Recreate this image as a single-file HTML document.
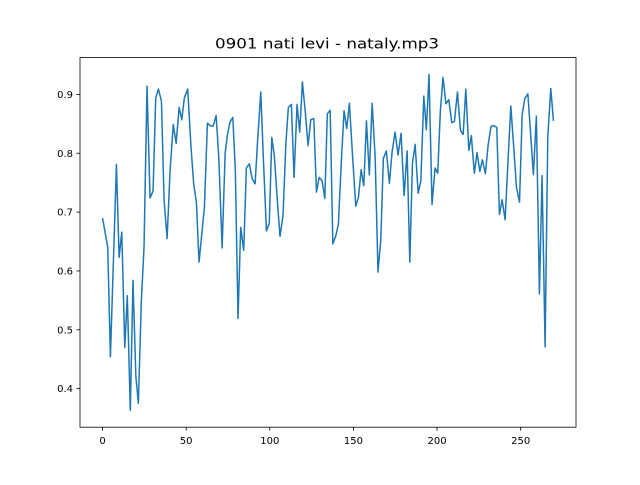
<!DOCTYPE html>
<html><head><meta charset="utf-8"><style>
body{margin:0;background:#fff;}
svg text{font-family:"DejaVu Sans","Liberation Sans",sans-serif;fill:#000;}
</style></head><body>
<svg id="chart" width="640" height="480" viewBox="0 0 640 480" xmlns="http://www.w3.org/2000/svg">
<rect width="640" height="480" fill="#fff"/>
<text x="327" y="48.5" font-size="14.4" text-anchor="middle" textLength="224" lengthAdjust="spacingAndGlyphs">0901 nati levi - nataly.mp3</text>
<g id="plot"></g>
</svg>
<script>
const xValues = [0,3.1,4.7,8.3,9.9,11.5,13.3,14.8,16.6,18.2,19.9,21.4,23.2,24.8,26.6,28.4,30.2,31.8,33.4,35.2,36.8,38.6,40.4,42.3,44.0,45.8,47.4,48.9,50.9,52.9,54.5,56.1,57.7,60.9,62.7,64.3,66.1,67.9,69.5,71.5,73.3,
74.6,76.2,77.9,79.4,81.0,82.6,84.4,86.0,87.8,89.4,91.2,92.8,94.6,96.2,98.0,99.7,101.2,102.7,104.5,106.1,107.9,109.6,111.1,112.9,114.5,116.3,117.9,119.5,121.3,122.9,124.5,126.3,127.9,129.5,131.3,132.9,134.4,136.1,137.7,139.5,141.0,142.8,144.4,146.0,147.6,
149.4,151.4,153.0,154.6,156.2,157.8,159.5,161.2,163.0,164.7,166.4,167.9,169.7,171.5,173.1,174.9,176.7,178.5,180.3,182.1,183.7,185.3,186.9,188.7,190.3,192.1,193.6,195.2,197.0,198.8,200.4,202.0,203.6,205.3,207.0,208.8,210.4,
212.2,214.0,215.6,217.2,219.0,220.5,222.3,223.9,225.6,227.1,228.9,230.5,232.3,233.9,235.7,237.3,238.9,240.7,242.5,244.1,245.7,247.5,249.3,250.9,252.5,254.3,255.8,257.6,259.4,261.2,262.8,264.6,266.2,268.0,269.6];
const yValues = [0.690,0.640,0.454,0.781,0.623,0.666,0.470,0.558,0.363,0.584,0.422,0.375,0.550,0.640,0.914,0.724,0.736,0.894,0.909,0.889,0.720,0.655,0.771,0.849,0.817,0.878,0.857,0.894,0.909,0.810,0.748,0.717,0.615,0.708,0.851,0.847,0.846,0.864,0.793,0.639,0.800,
0.830,0.853,0.861,0.771,0.519,0.674,0.635,0.775,0.782,0.757,0.748,0.825,0.904,0.788,0.668,0.681,0.827,0.796,0.720,0.659,0.694,0.816,0.878,0.883,0.759,0.883,0.836,0.921,0.867,0.813,0.857,0.859,0.734,0.759,0.753,0.723,0.867,0.873,0.646,0.660,0.679,0.788,0.872,0.842,0.885,
0.799,0.710,0.725,0.772,0.745,0.855,0.763,0.885,0.793,0.598,0.655,0.791,0.804,0.749,0.802,0.836,0.797,0.834,0.728,0.804,0.615,0.783,0.815,0.732,0.753,0.897,0.840,0.934,0.713,0.775,0.766,0.873,0.929,0.884,0.891,0.852,0.854,
0.904,0.839,0.832,0.909,0.805,0.830,0.766,0.801,0.769,0.789,0.765,0.813,0.846,0.847,0.844,0.696,0.721,0.687,0.791,0.880,0.816,0.742,0.717,0.866,0.893,0.901,0.839,0.764,0.863,0.561,0.762,0.471,0.827,0.910,0.855];
const xTicks = [0,50,100,150,200,250];
const yTicks = [0.4,0.5,0.6,0.7,0.8,0.9];

const NS='http://www.w3.org/2000/svg';
const L=80,R=576,T=57.6,B=427.2;
const n=Math.min(xValues.length,yValues.length);
const xmin=Math.min(...xValues), xmax=Math.max(...xValues);
const ymin=Math.min(...yValues), ymax=Math.max(...yValues);
const xl=xmin-0.05*(xmax-xmin), xh=xmax+0.05*(xmax-xmin);
const yl=ymin-0.05*(ymax-ymin), yh=ymax+0.05*(ymax-ymin);
const sx=v=>L+(v-xl)/(xh-xl)*(R-L);
const sy=v=>B-(v-yl)/(yh-yl)*(B-T);
const g=document.getElementById('plot');
function mk(tag,attrs){const e=document.createElementNS(NS,tag);for(const k in attrs)e.setAttribute(k,attrs[k]);g.appendChild(e);return e;}

let d='';
for(let i=0;i<n;i++){d+=(i?'L':'M')+sx(xValues[i]).toFixed(2)+','+sy(yValues[i]).toFixed(2);}
const line=mk('path',{d:d,fill:'none',stroke:'#1f77b4','stroke-width':1.5,'stroke-linejoin':'round'});



xTicks.forEach(t=>{
  const x=sx(t);
  const tk=mk('line',{x1:x,x2:x,y1:B,y2:B+3.5,stroke:'#000','stroke-width':0.8});
  
  
  const tx=mk('text',{x:x,y:B+17,'font-size':10,'text-anchor':'middle'});
  tx.textContent=t;
  
  
});
yTicks.forEach(t=>{
  const y=sy(t);
  const tk=mk('line',{x1:L-3.5,x2:L,y1:y,y2:y,stroke:'#000','stroke-width':0.8});
  
  
  const tx=mk('text',{x:L-7,y:y+3.6,'font-size':10,'text-anchor':'end'});
  tx.textContent=t.toFixed(1);
  
  
});
const frame=mk('rect',{x:L,y:T,width:R-L,height:B-T,fill:'none',stroke:'#000','stroke-width':0.8});


</script>
</body></html>
